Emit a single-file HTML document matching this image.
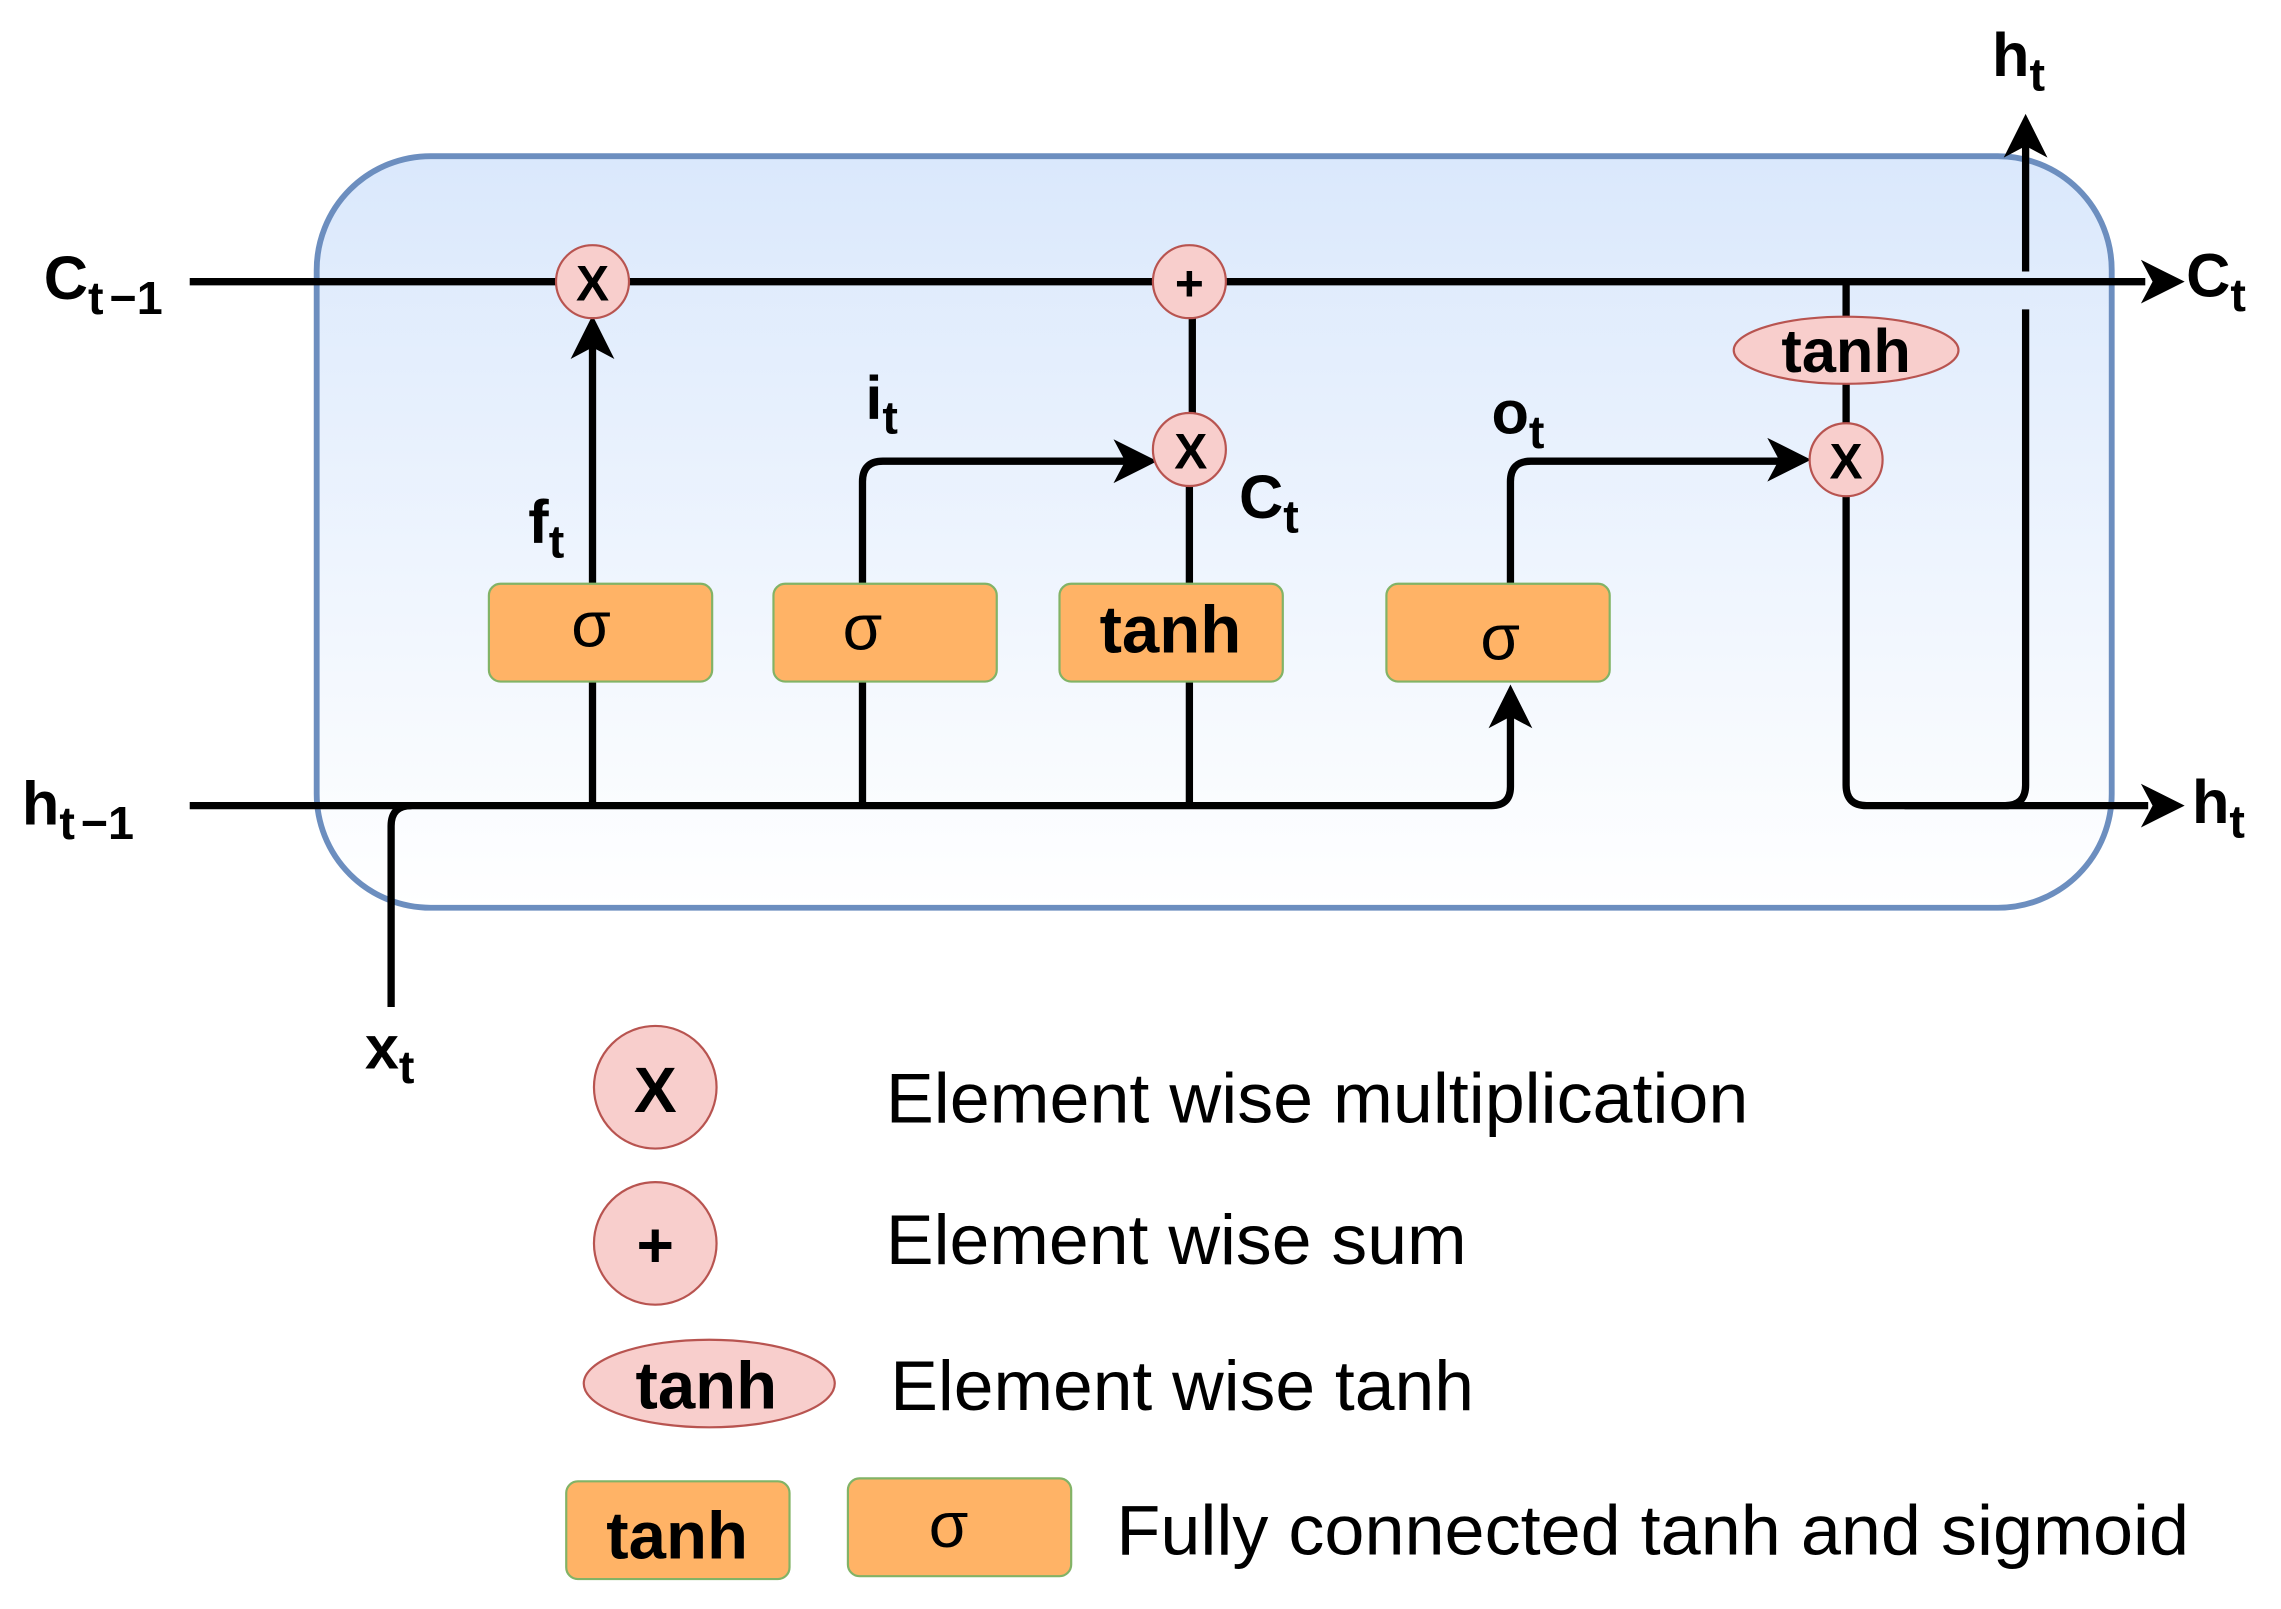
<!DOCTYPE html>
<html><head><meta charset="utf-8"><style>html,body{margin:0;padding:0;background:#fff}svg{display:block}</style></head>
<body>
<svg width="2281" height="1609" viewBox="0 0 1563 1102.5" preserveAspectRatio="none" xmlns="http://www.w3.org/2000/svg" font-family="Liberation Sans, Arial, sans-serif">
<defs>
<linearGradient id="g" x1="0" y1="0" x2="0" y2="1"><stop offset="0" stop-color="#dae8fc"/><stop offset="1" stop-color="#ffffff"/></linearGradient>
</defs>
<rect x="217" y="107" width="1230" height="515" rx="78" fill="url(#g)" stroke="#6c8ebf" stroke-width="4"/>
<g fill="none" stroke="#000" stroke-width="5">
<path d="M130 193H1470"/>
<path d="M130 552H1022q13 0 13-13V480"/>
<path d="M268 690V566q0-14 14-14"/>
<path d="M406 552V467M406 400V235"/>
<path d="M591 552V467M591 400V330q0-14 14-14H778"/>
<path d="M815 552V467M815 400V333M817 283V218"/>
<path d="M1035 400V330q0-14 14-14H1225"/>
<path d="M1265 193V217M1265 263V290M1265 340V538q0 14 14 14H1472"/>
<path d="M1305 552H1374q14 0 14-14V212M1388 186V100"/>
</g>
<g fill="#000">
<path d="M1497 193l-30-15 8 15-8 15z"/>
<path d="M1497 552l-30-15 8 15-8 15z"/>
<path d="M1388 78l-15 30 15-8 15 8z"/>
<path d="M406 216l-15 30 15-8 15 8z"/>
<path d="M1035 469l-15 30 15-8 15 8z"/>
<path d="M793 316l-30-15 8 15-8 15z"/>
<path d="M1241 315l-30-15 8 15-8 15z"/>
</g>
<g fill="#f8cecc" stroke="#b85450" stroke-width="1.5">
<circle cx="406" cy="193" r="25"/><circle cx="815" cy="193" r="25"/><circle cx="815" cy="308" r="25"/><circle cx="1265" cy="315" r="25"/>
<ellipse cx="1265" cy="240" rx="77" ry="23"/>
<circle cx="449" cy="745" r="42"/><circle cx="449" cy="852" r="42"/>
<ellipse cx="486" cy="948" rx="86" ry="30"/>
</g>
<g fill="#ffb366" stroke="#82b366" stroke-width="1.5">
<rect x="335" y="400" width="153" height="67" rx="8"/><rect x="530" y="400" width="153" height="67" rx="8"/>
<rect x="726" y="400" width="153" height="67" rx="8"/><rect x="950" y="400" width="153" height="67" rx="8"/>
<rect x="388" y="1015" width="153" height="67" rx="8"/><rect x="581" y="1013" width="153" height="67" rx="8"/>
</g>
<g font-weight="bold" text-anchor="middle" font-size="34">
<text x="406" y="206">X</text><text x="815" y="206">+</text><text x="816" y="321">X</text><text x="1265" y="328">X</text>
<text x="1265" y="255" font-size="42">tanh</text>
<text x="802" y="447" font-size="46">tanh</text>
<text x="449" y="762" font-size="44">X</text><text x="449" y="868" font-size="44">+</text>
<text x="484" y="965" font-size="46">tanh</text><text x="464" y="1068" font-size="46">tanh</text>
</g>
<g text-anchor="middle" font-size="44">
<text x="405" y="443">σ</text><text x="591" y="445">σ</text><text x="1028" y="452">σ</text><text x="650" y="1060">σ</text>
</g>
<g font-weight="bold" font-size="42">
<text x="30" y="205">C<tspan font-size="32" dy="10">t</tspan><tspan font-size="32" dx="4">−1</tspan></text>
<text x="15" y="565">h<tspan font-size="32" dy="10">t</tspan><tspan font-size="32" dx="4">−1</tspan></text>
<text x="250" y="732">x<tspan font-size="32" dy="10">t</tspan></text>
<text x="362" y="372">f<tspan font-size="32" dy="10">t</tspan></text>
<text x="593" y="287">i<tspan font-size="32" dy="10">t</tspan></text>
<text x="1022" y="297">o<tspan font-size="32" dy="10">t</tspan></text>
<text x="849" y="355">C<tspan font-size="32" dy="10">t</tspan></text>
<text x="1365" y="52">h<tspan font-size="32" dy="10">t</tspan></text>
<text x="1498" y="203">C<tspan font-size="32" dy="10">t</tspan></text>
<text x="1502" y="564">h<tspan font-size="32" dy="10">t</tspan></text>
</g>
<g font-size="48">
<text x="607" y="769" textLength="591" lengthAdjust="spacingAndGlyphs">Element wise multiplication</text>
<text x="607" y="866" textLength="398" lengthAdjust="spacingAndGlyphs">Element wise sum</text>
<text x="610" y="966" textLength="400" lengthAdjust="spacingAndGlyphs">Element wise tanh</text>
<text x="765" y="1065" textLength="735" lengthAdjust="spacingAndGlyphs">Fully connected tanh and sigmoid</text>
</g>
</svg>
</body></html>
